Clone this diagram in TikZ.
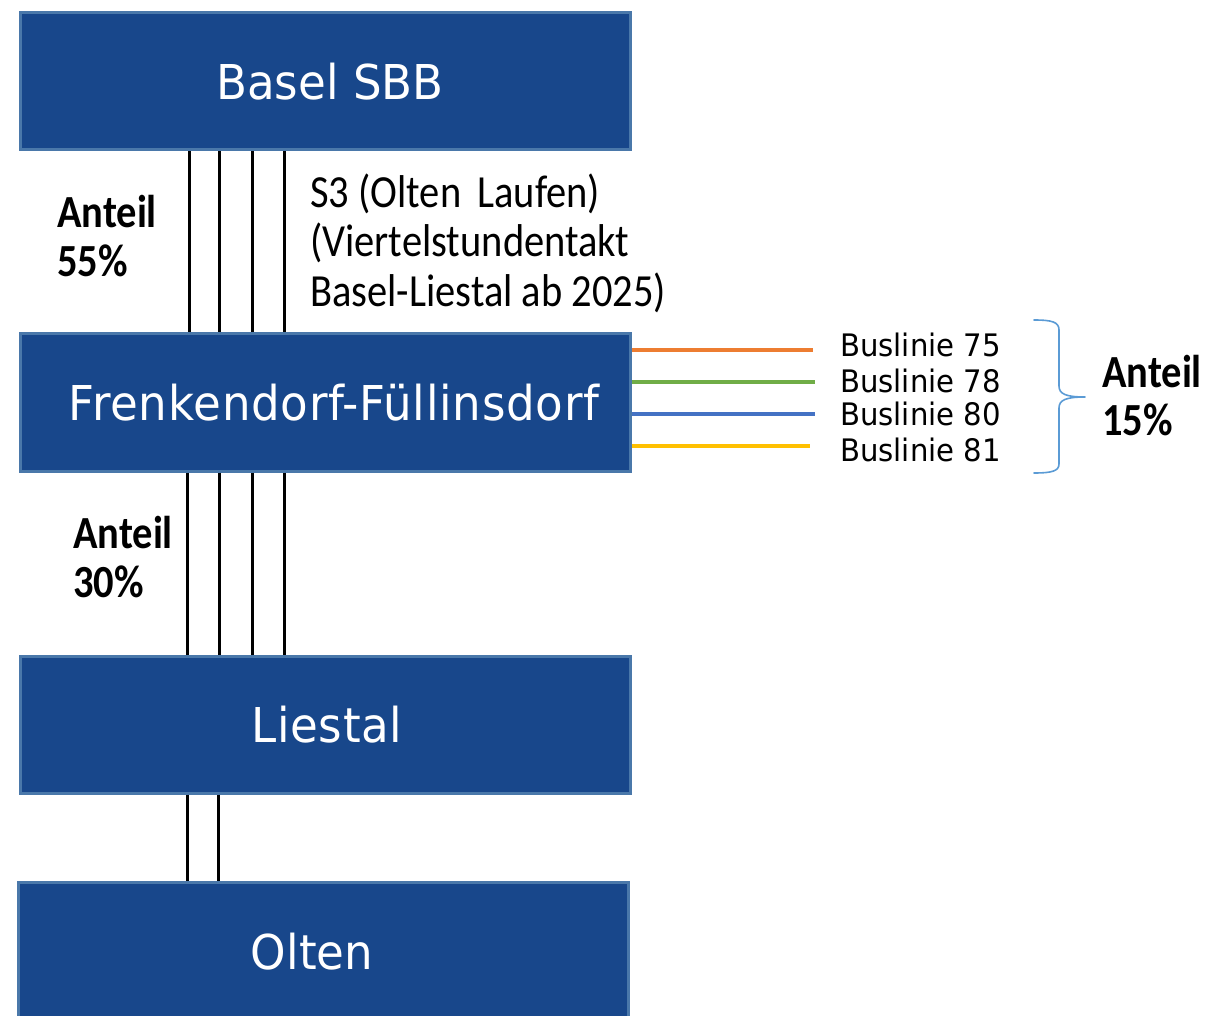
\documentclass[tikz,border=0pt]{standalone}
\usepackage{fontspec}
\newfontfamily\calfont{Carlito}[FakeStretch=0.88]
\newfontfamily\dvfont{DejaVu Sans}[FakeStretch=0.94]
\definecolor{boxfill}{RGB}{24,71,139}
\definecolor{boxline}{RGB}{74,120,170}
\definecolor{busorange}{RGB}{237,125,49}
\definecolor{busgreen}{RGB}{112,173,71}
\definecolor{busblue}{RGB}{68,114,196}
\definecolor{busyellow}{RGB}{255,192,0}
\definecolor{bracecol}{RGB}{91,155,213}
\tikzset{
  station/.style={rectangle, fill=boxfill, draw=boxline, line width=3pt,
    minimum width=610pt, minimum height=137pt, inner sep=0pt,
    text=white, font=\dvfont\fontsize{48}{50}\selectfont},
  track/.style={black, line width=3pt},
  busline/.style={line width=3.5pt},
  lbl/.style={anchor=base west, inner sep=0pt, font=\calfont\fontsize{46}{50}\selectfont},
  share/.style={lbl, font=\calfont\bfseries\fontsize{46}{50}\selectfont},
  buslbl/.style={anchor=base west, inner sep=0pt, font=\dvfont\fontsize{31}{33}\selectfont},
}
\begin{document}
\begin{tikzpicture}[x=1pt,y=-1pt]
\useasboundingbox (0,0) rectangle (1208,1016);
% stations
\node[station] (basel) at (325,81.5) {\hspace*{10pt}Basel SBB};
\node[station] (frenk) at (325,402.5) {\hspace*{18pt}\addfontfeature{LetterSpace=1.5}Frenkendorf-Füllinsdorf};
\node[station] (liestal) at (325,724.5) {\hspace*{4pt}\addfontfeature{LetterSpace=1.5}Liestal};
\node[station, minimum height=140pt] (olten) at (323,952) {Olten\hspace*{22pt}};
% tracks Basel - Frenkendorf
\foreach \dx in {-136,-106,-73,-41}
  \draw[track] ([xshift=\dx pt]basel.south) -- ([xshift=\dx pt]frenk.north);
% tracks Frenkendorf - Liestal
\foreach \dx in {-138,-106,-73,-41}
  \draw[track] ([xshift=\dx pt]frenk.south) -- ([xshift=\dx pt]liestal.north);
% tracks Liestal - Olten
\foreach \dx in {-138,-107}
  \draw[track] ([xshift=\dx pt]liestal.south) -- ([xshift=\dx+2 pt]olten.north);
% labels
\node[share] (a55a) at (57,228) {Anteil};
\node[share] (a55b) at (57,277) {55\%};
\node[share] (a30a) at (73,548) {Anteil};
\node[share] (a30b) at (73,597) {30\%};
\node[share] (a15a) at (1102,388) {Anteil};
\node[share] (a15b) at (1102,435) {15\%};
\node[lbl] (s3a) at (310,208) {S3 (Olten\hspace{7pt} Laufen)};
\node[lbl] (s3b) at (310,257) {(Viertelstundentakt};
\node[lbl] (s3c) at (310,307) {Basel-Liestal ab 2025)};
% bus lines
\coordinate (e75) at (813,350);
\coordinate (e78) at (815,382);
\coordinate (e80) at (815,414);
\coordinate (e81) at (810,446);
\draw[busline, busorange] ([yshift=52.5pt]frenk.east) -- (e75);
\draw[busline, busgreen] ([yshift=20.5pt]frenk.east) -- (e78);
\draw[busline, busblue] ([yshift=-11.5pt]frenk.east) -- (e80);
\draw[busline, busyellow] ([yshift=-43.5pt]frenk.east) -- (e81);
\node[buslbl] (b75) at (840,356.5) {Buslinie 75};
\node[buslbl] (b78) at (840,392.5) {Buslinie 78};
\node[buslbl] (b80) at (840,425.5) {Buslinie 80};
\node[buslbl] (b81) at (840,461.5) {Buslinie 81};
% brace
\draw[bracecol, line width=1.6pt, line cap=round, line join=round]
  (1034,320) .. controls (1052,320) and (1059,322) .. (1059,330) -- (1059,386)
  .. controls (1059,394) and (1066,397) .. (1085,397)
  .. controls (1066,397) and (1059,400) .. (1059,408) -- (1059,464)
  .. controls (1059,471) and (1052,473) .. (1034,473);
\end{tikzpicture}
\end{document}
